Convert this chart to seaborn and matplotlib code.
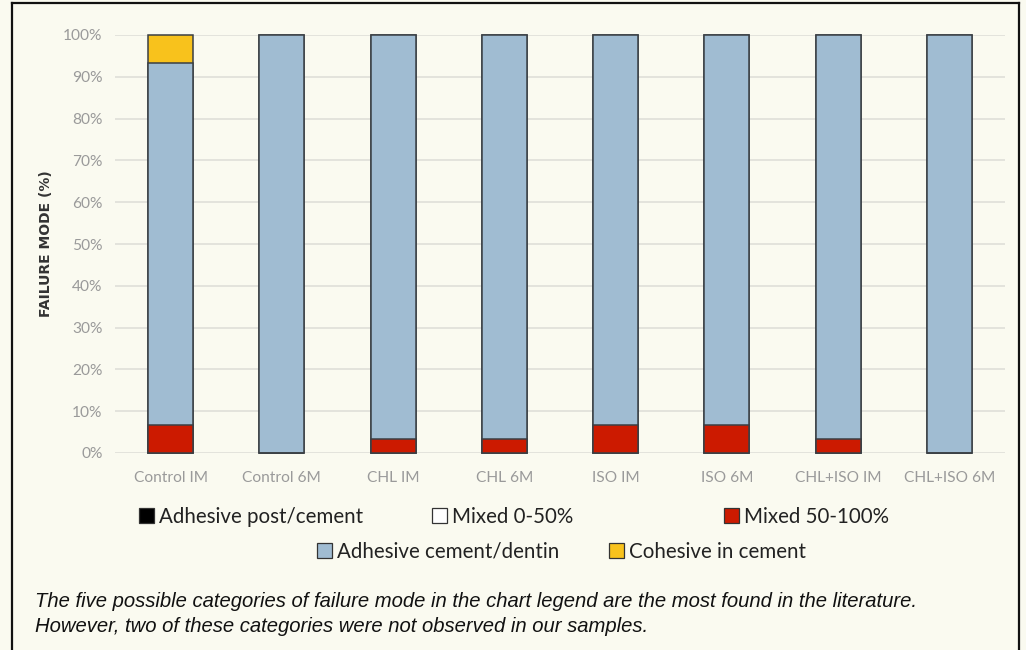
import pandas as pd
import matplotlib
matplotlib.use("Agg")
import matplotlib.pyplot as plt
from matplotlib.patches import Patch
from matplotlib.lines import Line2D
import seaborn as sns

groups = ["Control IM", "Control 6M", "CHL IM", "CHL 6M",
          "ISO IM", "ISO 6M", "CHL+ISO IM", "CHL+ISO 6M"]
adhesive_post = [0, 0, 0, 0, 0, 0, 0, 0]
mixed_0_50 = [0, 0, 0, 0, 0, 0, 0, 0]
mixed_50_100 = [6.67, 0, 3.33, 3.33, 6.67, 6.67, 3.33, 0]
adhesive_dentin = [86.67, 100, 96.67, 96.67, 93.33, 93.33, 96.67, 100]
cohesive = [6.67, 0, 0, 0, 0, 0, 0, 0]

modes = ["Adhesive post/cement", "Mixed 0-50%", "Mixed 50-100%",
         "Adhesive cement/dentin", "Cohesive in cement"]
colors = ["#000000", "#ffffff", "#cc1a00", "#a0bcd2", "#f8c21c"]

df = pd.DataFrame({"group": groups,
                   modes[0]: adhesive_post, modes[1]: mixed_0_50,
                   modes[2]: mixed_50_100, modes[3]: adhesive_dentin,
                   modes[4]: cohesive})
cum = df[modes].cumsum(axis=1)
cum["group"] = df["group"]

bg = "#fafaf0"
fig = plt.figure(figsize=(10.26, 6.5), dpi=100, facecolor=bg)
ax = fig.add_axes([115 / 1026, 1 - 453 / 650, 890 / 1026, 418 / 650])
ax.set_facecolor(bg)

# stacked bars: draw cumulative totals from top layer down
for mode, col in reversed(list(zip(modes, colors))):
    if cum[mode].max() == 0:
        continue
    sns.barplot(data=cum, x="group", y=mode, color=col, saturation=1,
                width=0.405, edgecolor="#3a3f44", linewidth=1.1,
                errorbar=None, ax=ax, zorder=3)
for p in ax.patches:
    p.set_clip_on(False)

ax.set_ylim(0, 100)
ax.set_xlim(-0.5, len(groups) - 0.5)
ax.set_yticks(range(0, 101, 10))
ax.set_yticklabels([f"{v}%" for v in range(0, 101, 10)])
ax.grid(axis="y", color="#dcdcd6", linewidth=1.1, zorder=0)
ax.set_axisbelow(True)
for s in ax.spines.values():
    s.set_visible(False)
ax.tick_params(length=0, labelcolor="#9a9a9a", labelsize=11.2)
ax.tick_params(axis="y", pad=9)
ax.tick_params(axis="x", pad=13)
for lab in ax.get_xticklabels() + ax.get_yticklabels():
    lab.set_fontfamily("Lato")
ax.set_xlabel("")
ax.set_ylabel("FAILURE MODE (%)", fontsize=10, fontweight="bold",
              color="#333333", family="DejaVu Sans")
ax.yaxis.set_label_coords(-(115 - 53) / 890, 0.5)

# legend entries laid out like the original (3 + 2 centred)
spots = [(139, 517), (432, 517), (724, 517), (317, 552), (609, 552)]
for mode, col, (px, py) in zip(modes, colors, spots):
    h = Patch(facecolor=col, edgecolor="#333333", linewidth=0.9)
    fig.legend([h], [mode], loc="center left",
               bbox_to_anchor=(px / 1026, 1 - py / 650), frameon=False,
               borderpad=0, borderaxespad=0, handlelength=0.74,
               handleheight=0.74, handletextpad=0.22,
               prop={"family": "Lato", "size": 14.8}, labelcolor="#222222")

caption = ("The five possible categories of failure mode in the chart legend are the most found in the literature.\n"
           "However, two of these categories were not observed in our samples.")
fig.text(35 / 1026, 1 - 614 / 650, caption, fontsize=14.6, style="italic",
         family="Liberation Sans", color="#111111", va="center",
         linespacing=1.45)

# outer frame
for xs, ys in [((12, 12), (3, 650)), ((1019, 1019), (3, 650)), ((12, 1019), (3, 3))]:
    fig.add_artist(Line2D([x / 1026 for x in xs], [1 - y / 650 for y in ys],
                          color="#111111", linewidth=1.6,
                          transform=fig.transFigure))

fig.savefig("out.png", dpi=100, facecolor=bg)
